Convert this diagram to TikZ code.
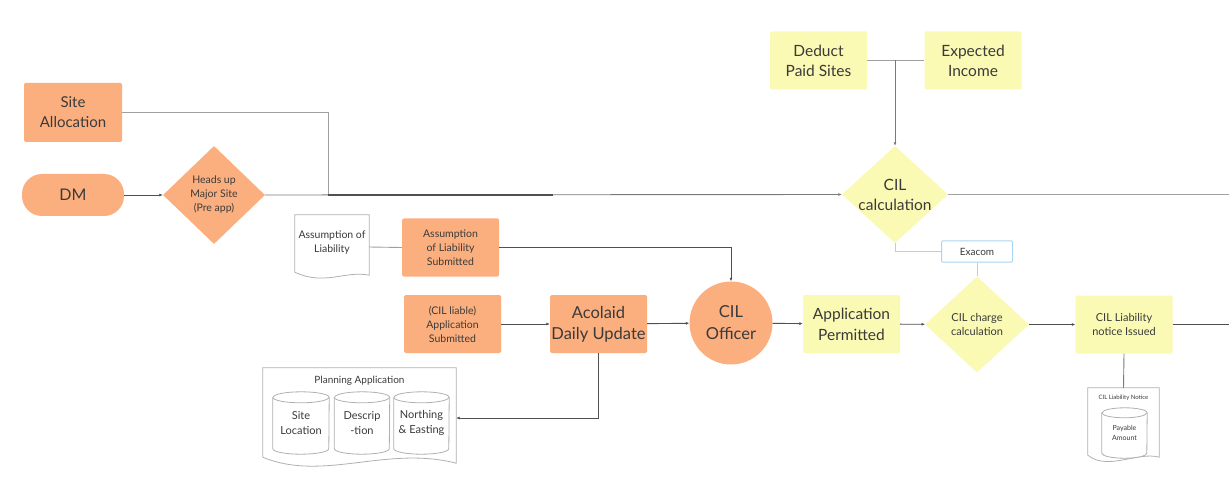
\documentclass[tikz,border=0pt]{standalone}
\usepackage{fontspec}
\setmainfont{Lato}
\usetikzlibrary{shapes.geometric,arrows.meta,backgrounds}
\definecolor{orng}{HTML}{FCAF7E}
\definecolor{ylw}{HTML}{FAFAB4}
\definecolor{blu}{HTML}{A9D5F2}
\definecolor{txt}{HTML}{3A3A3A}
\definecolor{lnl}{HTML}{A0A0A0}
\definecolor{lnm}{HTML}{7A7A7A}
\definecolor{lnd}{HTML}{505050}
\definecolor{docg}{HTML}{B0B0B0}
\newcommand\fs[2]{\fontsize{#1}{#2}\selectfont}
% document outline: name, left rise, right rise, c1 xshift, c1 yshift, c2 xshift, c2 yshift
\newcommand\docpath[7]{%
  \filldraw[docline] ([yshift=#2]#1.south west) -- (#1.north west) -- (#1.north east)
    -- ([yshift=#3]#1.south east) .. controls ([xshift=#4,yshift=#5]#1.south east)
    and ([xshift=#6,yshift=#7]#1.south west) .. ([yshift=#2]#1.south west) -- cycle;}
% cylinder outline: name, x radius, y radius
\newcommand\cylpath[3]{%
  \filldraw[docline] ([yshift=-#3]#1.north west) -- ([yshift=#3]#1.south west)
    arc[start angle=180,end angle=360,x radius=#2,y radius=#3]
    -- ([yshift=-#3]#1.north east)
    arc[start angle=0,end angle=180,x radius=#2,y radius=#3] -- cycle;
  \draw[docline] ([yshift=-#3]#1.north west) arc[start angle=180,end angle=360,x radius=#2,y radius=#3];}
\tikzset{
  obox/.style={rectangle, fill=orng, rounded corners=1.5pt, align=center, text=txt,
    inner sep=0pt, minimum width=97, minimum height=58},
  ybox/.style={obox, fill=ylw},
  odia/.style={diamond, fill=orng, inner sep=0pt},
  ydia/.style={diamond, fill=ylw, inner sep=0pt},
  lbl/.style={text=txt, align=center},
  plain/.style={rectangle, inner sep=0pt, align=center, text=txt},
  docline/.style={draw=docg, fill=white, line width=0.8pt},
  arr/.style={-{Latex[length=3.5pt,width=3pt]}},
  cl/.style={line width=0.9pt},
}
\begin{document}
\begin{tikzpicture}[x=1pt,y=-1pt]
\begin{scope}[on background layer]
\fill[white] (0,0) rectangle (1229,489);
\end{scope}
\useasboundingbox (0,0) rectangle (1229,489);

% left column
\node[obox, minimum width=98, minimum height=59, font=\fs{15}{20}] (site) at (73,112.5) {Site\\Allocation};
\node[obox, rounded corners=20pt, minimum width=102, minimum height=42, font=\fs{16}{20}] (dm) at (73,195) {DM};
\node[odia, minimum width=102, minimum height=98,
  label={[lbl, font=\fs{10.5}{14}]center:Heads up\\Major Site\\(Pre app)}] (heads) at (214,195) {};

% top
\node[ybox, font=\fs{15.5}{20}] (deduct) at (818.5,60.5) {Deduct\\Paid Sites};
\node[ybox, font=\fs{15.5}{20}] (expected) at (973,60.5) {Expected\\Income};
\node[ydia, minimum width=106, minimum height=97,
  label={[lbl, font=\fs{15.5}{20}]center:CIL\\calculation}] (cilcalc) at (895,194.5) {};
\node[rectangle, draw=blu, fill=white, line width=1pt, rounded corners=1pt, minimum width=71,
  minimum height=21, inner sep=0pt, text=txt, font=\fs{10}{12}] (exa) at (977,251.5) {Exacom};

% assumption row
\node[plain, minimum width=74, minimum height=64,
  label={[lbl, font=\fs{10.5}{14}, yshift=4pt]center:Assumption of\\Liability}] (ald) at (332,247) {};
\node[obox, font=\fs{10.5}{14}] (als) at (450.5,247.5) {Assumption\\of Liability\\Submitted};

% main row
\node[obox, font=\fs{10.5}{14}] (apps) at (452.5,324) {(CIL liable)\\Application\\Submitted};
\node[obox, font=\fs{16.5}{21}] (acol) at (598.5,324) {Acolaid\\Daily Update};
\node[circle, fill=orng, minimum size=83, inner sep=0pt, align=center, text=txt, font=\fs{16.5}{22}] (off) at (731,323) {CIL\\Officer};
\node[ybox, font=\fs{15.5}{21}] (perm) at (851.5,324) {Application\\Permitted};
\node[ydia, minimum width=104, minimum height=96,
  label={[lbl, font=\fs{11}{14}]center:CIL charge\\calculation}] (charge) at (977,324.5) {};
\node[ybox, font=\fs{11}{14}] (notice) at (1124,324.5) {CIL Liability\\notice Issued};

% documents (nodes)
\node[plain, minimum width=193, minimum height=100] (pa) at (359.5,418) {};
\node[plain, font=\fs{10}{12}] (patitle) at (359.5,380.5) {Planning Application};
\node[plain, minimum width=56, minimum height=62, font=\fs{11}{15}] (cy1) at (301,423) {Site\\Location};
\node[plain, minimum width=55, minimum height=62, font=\fs{11}{15}] (cy2) at (362,423) {Descrip\\-tion};
\node[plain, minimum width=55, minimum height=62, font=\fs{11}{15}] (cy3) at (421.5,423) {Northing\\\& Easting};

\node[plain, minimum width=71, minimum height=75] (cln) at (1123.5,425.5) {};
\node[plain, font=\fs{6}{7}] (clntitle) at (1123.5,397.5) {CIL Liability Notice};
\node[plain, minimum width=45, minimum height=50, font=\fs{7}{10}] (pay) at (1124.5,433) {Payable\\Amount};

\begin{scope}[on background layer]
  \docpath{ald}{7pt}{4pt}{-24pt}{9pt}{30pt}{-7pt}
  \docpath{pa}{11pt}{5pt}{-70pt}{23pt}{60pt}{-14pt}
  \docpath{cln}{8pt}{6pt}{-22pt}{12pt}{20pt}{-8pt}
  \cylpath{cy1}{28pt}{5.5pt}
  \cylpath{cy2}{27.5pt}{5.5pt}
  \cylpath{cy3}{27.5pt}{5.5pt}
  \cylpath{pay}{22.5pt}{5pt}
\end{scope}

% connectors
\coordinate (sj) at (328,195);
\coordinate (sk) at (553,195);
\coordinate (tj) at (895,60.5);
\coordinate (re1) at (1229,194.5);
\coordinate (re2) at (1229,324.5);

\draw[lnd, cl, arr] (dm) -- (heads);
\draw[lnm, cl, arr] (heads.east) -- (cilcalc.west);
\draw[lnl, cl] (site.east) -| (sj);
\draw[lnd, line width=1.1pt] (sj) -- (sk);
\draw[lnl, cl] (deduct.east) -- (expected.west);
\draw[lnm, cl, arr] (tj) -- (cilcalc.north);
\draw[lnl, cl] (cilcalc.east) -- (re1);
\draw[blu, line width=1pt] (cilcalc.south) |- (exa.west);
\draw[blu, line width=1pt] (exa.south) -- (charge.north);

\draw[lnl, cl] (ald.east) -- (als.west);
\draw[lnd, cl, arr] (als.east) -| (off.north);

\draw[lnd, cl, arr] (apps) -- (acol);
\draw[lnd, cl, arr] (acol) -- (off);
\draw[lnd, cl, arr] (off) -- (perm);
\draw[lnd, cl, arr] (perm) -- (charge);
\draw[lnd, cl, arr] (charge) -- (notice);
\draw[lnd, cl] (notice.east) -- (re2);
\draw[lnd, cl, arr] (acol.south) |- (pa.east);
\draw[lnm, cl] (notice.south) -- (cln.north);
\end{tikzpicture}
\end{document}
